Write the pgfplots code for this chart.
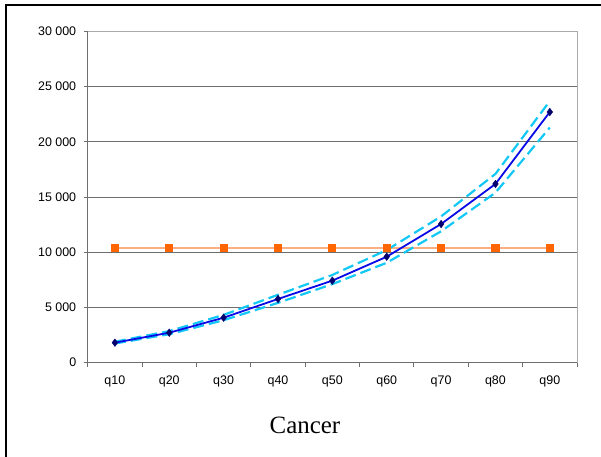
\documentclass[border=0pt]{standalone}
\usepackage{pgfplots}
\pgfplotsset{compat=1.18}
\usepackage{fontspec}
\setmainfont{Liberation Sans}
\newfontfamily\titlefont{Liberation Serif}

\definecolor{meanblue}{RGB}{10,10,230}
\definecolor{markernavy}{RGB}{0,0,110}
\definecolor{bandcyan}{RGB}{20,200,245}
\definecolor{refline}{RGB}{250,175,130}
\definecolor{refmark}{RGB}{255,102,0}
\definecolor{gridgray}{RGB}{110,110,110}
\definecolor{framegray}{RGB}{170,170,170}

\begin{document}
\begin{tikzpicture}
\useasboundingbox (0,0) rectangle (601bp,457bp);
% outer frame (left and top edges)
\draw[line width=2bp,black] (5.7bp,0) -- (5.7bp,452bp) -- (601bp,452bp);

\begin{axis}[
  at={(87.7bp,94.3bp)}, anchor=south west,
  scale only axis, width=489.3bp, height=331.2bp,
  xmin=0.5, xmax=9.5, ymin=0, ymax=30000,
  scaled y ticks=false,
  xtick={1,...,9},
  xticklabels={q10,q20,q30,q40,q50,q60,q70,q80,q90},
  minor xtick={0.5,1.5,...,9.5},
  ytick={0,5000,...,30000},
  yticklabels={0,5 000,10 000,15 000,20 000,25 000,30 000},
  tick pos=left,
  ymajorgrids,
  major grid style={gridgray,line width=0.9bp},
  tick style={gridgray,line width=0.9bp},
  major x tick style={draw=none},
  tick align=outside,
  major tick length=4bp, minor tick length=4bp,
  ticklabel style={font=\fontsize{12.5}{14}\selectfont,text=black},
  yticklabel style={xshift=-4bp},
  xticklabel style={yshift=-6bp},
  axis line style={framegray,line width=1bp},
  clip=false,
]
% axis lines on left and bottom in darker gray
\draw[gridgray,line width=1.2bp] (rel axis cs:0,1) -- (rel axis cs:0,0) -- (rel axis cs:1,0);

% reference level
\addplot[refline,line width=1.8bp,mark=square*,mark size=3.6bp,
  mark options={fill=refmark,draw=refmark,line width=0pt}]
  coordinates {(1,10400)(2,10400)(3,10400)(4,10400)(5,10400)(6,10400)(7,10400)(8,10400)(9,10400)};

% upper bound
\addplot[bandcyan,line width=2.2bp,dash pattern=on 11bp off 5bp]
  coordinates {(1,1900)(2,2860)(3,4330)(4,6150)(5,7950)(6,10200)(7,13250)(8,17100)(9,23700)};
% lower bound
\addplot[bandcyan,line width=2.2bp,dash pattern=on 11bp off 5bp]
  coordinates {(1,1740)(2,2580)(3,3850)(4,5420)(5,7120)(6,9050)(7,11900)(8,15400)(9,21300)};

% quantile estimate
\addplot[meanblue,line width=1.8bp,mark=diamond*,mark size=3.8bp,
  mark options={fill=markernavy,draw=markernavy,line width=0.4bp}]
  coordinates {(1,1812)(2,2717)(3,4076)(4,5770)(5,7433)(6,9600)(7,12560)(8,16190)(9,22710)};
\end{axis}

\node[font=\titlefont\fontsize{25}{28}\selectfont,anchor=center] at (305bp,32bp) {Cancer};
\end{tikzpicture}
\end{document}
